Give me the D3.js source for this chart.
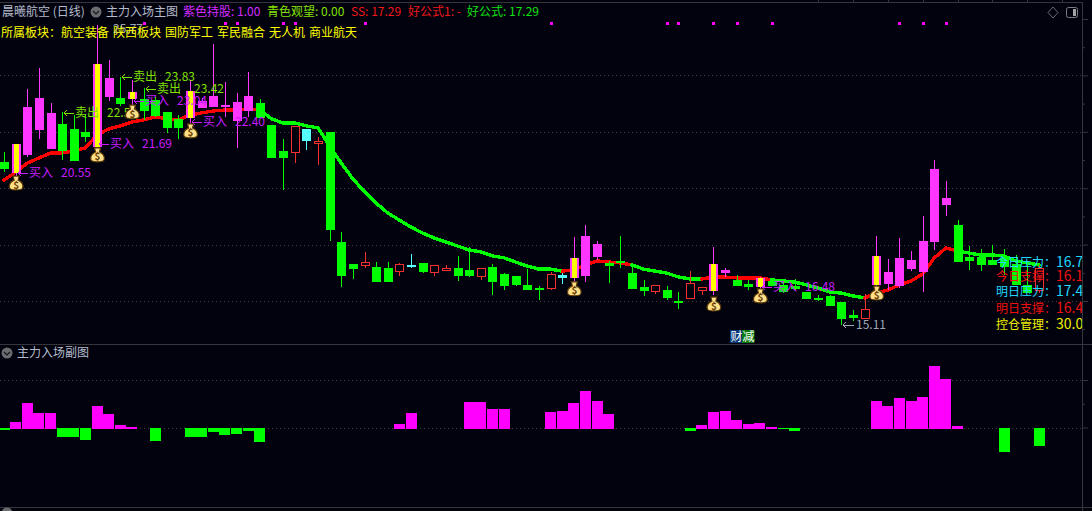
<!DOCTYPE html>
<html>
<head>
<meta charset="utf-8">
<title>晨曦航空 (日线)</title>
<script src="https://cdn.jsdelivr.net/npm/d3@7"></script>
<style>
  html, body { margin: 0; padding: 0; background: #02020e; overflow: hidden; }
  svg { display: block; }
  text { font-family: "Noto Sans CJK SC", "Noto Sans", sans-serif; font-size: 12px; }
</style>
</head>
<body>
<div id="chart"></div>
<script>
// daily candles
const high = [21.28,21.57,23.52,24.26,23.02,22.70,22.60,22.63,25.79,24.55,23.94,23.84,23.55,23.24,22.70,22.60,23.84,23.20,25.11,23.77,23.38,24.12,23.17,22.24,21.75,22.21,22.10,21.82,21.99,18.45,17.31,17.74,17.38,17.38,17.35,17.67,17.35,17.28,17.28,17.60,17.91,17.17,17.31,16.99,16.89,17.13,16.53,17.03,16.99,18.27,18.70,18.13,17.42,18.31,17.21,16.75,16.57,16.53,16.32,17.06,16.50,17.91,17.17,16.92,16.75,16.85,16.78,16.64,16.78,16.32,16.21,16.21,15.97,15.68,16.25,18.31,17.49,18.23,17.77,19.01,21.00,20.26,18.87,17.95,17.84,17.99,17.84,17.63,17.28,17.28];
const low = [20.57,20.40,21.11,21.75,21.39,21.00,20.97,21.64,21.35,23.09,22.91,22.77,22.42,22.53,21.96,21.75,22.31,22.84,22.88,22.53,21.43,22.53,22.49,21.07,19.94,20.89,21.35,20.82,18.13,16.50,16.78,17.17,16.67,16.67,16.89,17.17,16.99,16.89,17.06,16.71,16.85,16.75,16.21,16.39,16.53,16.39,16.04,16.39,16.60,16.57,16.67,17.46,16.64,17.17,16.43,16.18,16.25,16.04,15.72,16.11,16.21,16.21,16.85,16.53,16.39,16.39,16.53,16.28,16.39,16.07,16.00,15.82,15.15,15.29,15.40,16.39,16.39,16.46,17.06,16.32,17.81,19.01,17.38,17.10,17.06,17.28,16.92,16.57,16.28,16.28];
const bodyTop = [20.93,21.57,22.88,23.20,22.67,22.28,22.10,21.99,24.40,23.91,23.20,23.41,23.17,23.13,22.70,22.46,23.45,23.09,23.27,22.95,23.06,23.27,23.02,22.24,21.32,22.21,22.10,21.69,21.99,18.09,17.31,17.38,17.21,17.17,17.31,17.28,17.35,17.28,17.17,17.17,17.10,17.17,17.21,16.96,16.89,16.57,16.46,16.96,16.92,17.53,18.31,18.02,17.35,17.42,16.99,16.50,16.57,16.39,16.00,16.64,16.50,17.31,17.10,16.75,16.60,16.82,16.71,16.57,16.53,16.32,16.11,16.18,15.97,15.50,15.72,17.60,17.03,17.53,17.46,18.13,20.68,19.65,18.70,17.56,17.56,17.46,17.53,17.31,16.57,17.17];
const bodyBottom = [20.68,20.54,21.17,22.06,21.39,21.32,20.97,21.82,21.46,23.24,22.99,23.17,22.74,22.56,22.14,22.14,22.49,22.84,22.88,22.88,22.38,22.74,22.49,21.07,21.07,21.28,21.67,21.66,18.52,16.89,17.13,17.28,16.67,16.67,17.06,17.24,17.03,17.03,17.10,16.89,16.89,16.89,16.67,16.53,16.57,16.39,16.39,16.46,16.82,16.82,16.89,17.56,17.24,17.35,16.43,16.36,16.36,16.11,15.97,16.11,16.39,16.36,16.99,16.53,16.50,16.50,16.53,16.32,16.43,16.07,16.07,15.82,15.36,15.40,15.40,16.57,16.60,16.53,17.13,17.03,18.09,19.40,17.38,17.42,17.28,17.28,17.21,16.57,16.28,16.39];
// g green, m magenta, r red hollow, c cyan, y magenta with yellow core
const state = "gymmmgggymgyggggymmmmmgggrcrgggrggrcgrrggrgggggrcymmggggrggrrymggyggggggggrymmmmmmgggggggr".split("");

// thick trend line
const trend = [20.29,20.57,20.89,21.07,21.25,21.25,21.32,21.43,21.89,22.10,22.21,22.35,22.42,22.53,22.46,22.42,22.60,22.67,22.74,22.77,22.77,22.81,22.77,22.46,22.31,22.31,22.21,22.14,21.50,20.89,20.33,19.87,19.47,19.12,18.87,18.62,18.41,18.23,18.09,17.95,17.81,17.74,17.60,17.53,17.38,17.24,17.13,17.13,17.06,17.10,17.28,17.42,17.38,17.35,17.28,17.13,17.06,16.99,16.85,16.78,16.78,16.85,16.85,16.82,16.82,16.82,16.75,16.71,16.67,16.57,16.46,16.32,16.28,16.18,16.11,16.28,16.39,16.57,16.71,16.96,17.53,17.88,17.77,17.70,17.63,17.63,17.60,17.42,17.35,17.28];
const trendRedRuns = [[0, 22], [48, 54], [60, 66], [74, 82]];

// lower panel, one bar per candle, 100 = the dotted grid line
const flow = [-5.6,11.3,51.4,30.3,30.3,-20.4,-20.4,-26.8,45.1,28.2,4.9,0.7,0,-28.9,0,0,-20.4,-20.4,-9.9,-16.2,-14.1,-7.7,-31,0,0,0,0,0,0,0,0,0,0,0,7,30.3,0,0,0,0,53.5,53.5,38.7,38.7,0,0,0,32.4,34.5,51.4,76.8,55.6,28.2,0,0,0,0,0,0,-7.7,4.9,32.4,34.5,15.5,7,9.2,0.7,-3.5,-7.7,0,0,0,0,0,0,55.6,45.1,62,55.6,64.1,129.6,102.1,2.8,0,0,0,-52.1,0,0,-39.4];

const priceGrid = [16, 18, 20, 22, 24];
const priceTicks = [15, 16, 17, 18, 19, 20, 21, 22, 23, 24, 25, 26];
const flowTicks = [0, 50, 100];

const bagDays = [1, 8, 11, 16, 49, 61, 65, 75];
const bagPrices = [20.18, 21.18, 22.70, 22.03, 16.43, 15.89, 16.18, 16.28];

const buyDays = [1, 8, 11, 16, 65];
const buyAt = [20.54, 21.57, 23.09, 22.35, 16.50];
const buyLabels = ["20.55", "21.69", "23.04", "22.40", "16.48"];
const sellDays = [5, 10, 12];
const sellAt = [22.66, 23.94, 23.52];
const sellLabels = ["22.53", "23.83", "23.42"];

const signalDays = [12, 19, 20, 24, 25, 31, 47, 57, 58, 61, 63, 66, 77, 79, 81];
const topTickDays = [70, 73, 76, 79, 82, 85, 88, 91];

const headerItems = [
  ["晨曦航空 (日线)", 2, "#b4bccc"], ["主力入场主图", 106, "#b4bccc"],
  ["紫色持股: 1.00", 183, "#d42cff"], ["青色观望: 0.00", 267, "#84e000"],
  ["SS: 17.29", 351, "#f01818"], ["好公式1: -", 408, "#f01818"], ["好公式: 17.29", 467, "#10e010"]
];
const sectorItems = [
  ["所属板块：", 1], ["航空装备", 61], ["陕西板块", 113], ["国防军工", 165],
  ["军民融合", 217], ["无人机", 269], ["商业航天", 309]
];
const sidePanel = [
  ["今日压力：", "16.74", "#20d8ff"], ["今日支撑：", "16.17", "#f01010"], ["明日压力：", "17.44", "#20d8ff"],
  ["明日支撑：", "16.43", "#f01010"], ["控仓管理：", "30.00", "#f0f000"]
];
const sidePanelRows = [263, 277, 292, 309, 325];

const width = 1092, height = 511;
const axisX = 1082;
const green = "#00ff00", magenta = "#ff36ff", red = "#f23030", cyan = "#55ffff", yellow = "#ffff00";
const buyColor = "#c81cff", sellColor = "#80e000", frame = "#34363c";

const x = d3.scaleLinear().domain([0, 89]).range([4, 1039]);
const y = d3.scaleLinear().domain([16, 24]).range([301, 75.4]);
const flowY = d3.scaleLinear().domain([0, 100]).range([427.5, 380]);

const svg = d3.select("#chart").append("svg").attr("width", width).attr("height", height);

// frame
[[0, axisX, 2, 2], [0, width, 344, 344], [0, width, 507, 507], [axisX, axisX, 2, 511]].forEach(d => {
  svg.append("line").attr("x1", d[0]).attr("x2", d[1]).attr("y1", d[2]).attr("y2", d[3])
    .attr("stroke", frame).attr("shape-rendering", "crispEdges");
});

// dotted grid
function dottedRow(yPos) {
  svg.append("line").attr("x1", 0).attr("x2", axisX).attr("y1", yPos).attr("y2", yPos)
    .attr("stroke", "#3c3e42").attr("stroke-dasharray", "1 3").attr("shape-rendering", "crispEdges");
}
priceGrid.forEach(p => dottedRow(Math.round(y(p))));
[0, 100].forEach(v => dottedRow(Math.round(flowY(v))));

// right axes, ticks only
function rightAxis(scale, values, longTest) {
  const g = svg.append("g").attr("transform", `translate(${axisX},0)`)
    .call(d3.axisRight(scale).tickValues(values).tickFormat("").tickSize(5));
  g.select(".domain").remove();
  g.selectAll(".tick line").attr("stroke", frame).attr("x2", d => longTest(d) ? 6 : 3);
}
rightAxis(y, priceTicks, d => d % 2 === 0);
rightAxis(flowY, flowTicks, d => d % 100 === 0);

// date ticks above the top rule
topTickDays.forEach(d => {
  svg.append("line").attr("x1", Math.round(x(d))).attr("x2", Math.round(x(d))).attr("y1", 0).attr("y2", 2)
    .attr("stroke", frame).attr("shape-rendering", "crispEdges");
});

// trend line goes under the candles
const trendLine = d3.line().x(d => x(d)).y(d => y(trend[d]));
const isRed = i => trendRedRuns.some(r => i >= r[0] && i < r[1]);
d3.range(trend.length - 1).forEach(i => {
  svg.append("path").attr("d", trendLine([i, i + 1])).attr("fill", "none")
    .attr("stroke", isRed(i) ? "#ff0000" : "#00ff00").attr("stroke-width", 3.4)
    .attr("stroke-linecap", "round").attr("shape-rendering", "crispEdges");
});

// candles
const candleColor = { g: green, m: magenta, y: magenta, r: red, c: cyan };
const candles = svg.append("g").selectAll("g").data(d3.range(high.length)).join("g")
  .attr("shape-rendering", "crispEdges");
candles.append("line")
  .attr("x1", i => Math.round(x(i)) + 0.5).attr("x2", i => Math.round(x(i)) + 0.5)
  .attr("y1", i => y(high[i])).attr("y2", i => y(low[i]))
  .attr("stroke", i => candleColor[state[i]]);
candles.append("rect")
  .attr("x", i => Math.round(x(i)) - 4 + (state[i] === "r" ? 0.5 : 0))
  .attr("width", i => state[i] === "r" ? 8 : 9)
  .attr("y", i => Math.round(y(bodyTop[i])) + (state[i] === "r" ? 0.5 : 0))
  .attr("height", i => Math.max(2, Math.round(y(bodyBottom[i]) - y(bodyTop[i]))))
  .attr("fill", i => state[i] === "r" ? "#02020e" : candleColor[state[i]])
  .attr("stroke", i => state[i] === "r" ? red : "none");
candles.filter(i => state[i] === "y").append("rect")
  .attr("x", i => Math.round(x(i)) - 2).attr("width", 5)
  .attr("y", i => Math.round(y(bodyTop[i])))
  .attr("height", i => Math.round(y(bodyBottom[i]) - y(bodyTop[i])))
  .attr("fill", yellow);

// flow bars
svg.append("g").selectAll("rect").data(flow.map((v, i) => ({ v, i })).filter(d => d.v !== 0)).join("rect")
  .attr("x", d => Math.round(x(d.i) - 5.5)).attr("width", 11)
  .attr("y", d => d.v > 0 ? flowY(d.v) : flowY(0))
  .attr("height", d => Math.abs(flowY(d.v) - flowY(0)) + (d.v > 0 ? 1 : 0))
  .attr("fill", d => d.v > 0 ? "#ff00ff" : "#00ff00")
  .attr("shape-rendering", "crispEdges");

// signal dots along the top
svg.append("g").selectAll("rect").data(signalDays).join("rect")
  .attr("x", d => Math.round(x(d)) - 1).attr("y", 22).attr("width", 3).attr("height", 3)
  .attr("fill", "#ff00ff");

// arrows and labels
function arrowLabel(x0, x1, yPos, color) {
  svg.append("path")
    .attr("d", `M${x1},${yPos}H${x0 + 1}M${x0 + 4},${yPos - 3}L${x0 + 1},${yPos}L${x0 + 4},${yPos + 3}`)
    .attr("fill", "none").attr("stroke", color).attr("shape-rendering", "crispEdges");
}
function signalLabel(day, price, word, number, color, numberGap) {
  const px = Math.round(x(day)) + 1, py = Math.round(y(price));
  arrowLabel(px, px + 11, py, color);
  svg.append("text").attr("x", px + 12).attr("y", py + 4).attr("fill", color).text(word);
  svg.append("text").attr("x", px + 12 + numberGap).attr("y", py + 4).attr("fill", color).text(number);
}
buyDays.forEach((d, i) => signalLabel(d, buyAt[i], "买入", buyLabels[i], buyColor, 32));
sellDays.forEach((d, i) => signalLabel(d, sellAt[i], "卖出", sellLabels[i], sellColor, i === 2 ? 37 : 32));

// high and low callouts
arrowLabel(842, 854, 325, "#a0a8b8");
svg.append("text").attr("x", 856).attr("y", 329).attr("fill", "#a0a8b8").text("15.11");
svg.append("text").attr("x", 113).attr("y", 33).attr("fill", "#9aa2b0").text("25.77");

// money bags
const bags = svg.append("g").selectAll("g").data(bagDays).join("g")
  .attr("transform", (d, i) => `translate(${x(d) + 0.5},${y(bagPrices[i])})`);
bags.append("path")
  .attr("d", "M-3,-7L3,-7L2,-3C6,-1 7.5,2 6.5,5C5.5,7.5 -5.5,7.5 -6.5,5C-7.5,2 -6,-1 -2,-3Z")
  .attr("fill", "#ffe089").attr("stroke", "#5a3a08").attr("stroke-width", 1.2);
bags.append("text").attr("text-anchor", "middle").attr("y", 5.5)
  .style("font-size", "10px").style("font-weight", "bold").attr("fill", "#6a4008").text("$");

// header rows
svg.append("g").selectAll("text").data(headerItems).join("text")
  .attr("x", d => d[1]).attr("y", 16).attr("fill", d => d[2]).text(d => d[0]);
svg.append("g").selectAll("text").data(sectorItems).join("text")
  .attr("x", d => d[1]).attr("y", 37).attr("fill", "#ffff00").text(d => d[0]);

function chevron(cx, cy) {
  svg.append("circle").attr("cx", cx).attr("cy", cy).attr("r", 5.5).attr("fill", "#6a6c70");
  svg.append("path").attr("d", `M${cx - 3},${cy - 1}L${cx},${cy + 2}L${cx + 3},${cy - 1}`)
    .attr("fill", "none").attr("stroke", "#16161c").attr("stroke-width", 1.2);
}
chevron(96, 12);
chevron(7, 353);
svg.append("text").attr("x", 17).attr("y", 357).attr("fill", "#b4bccc").text("主力入场副图");
svg.append("circle").attr("cx", 7).attr("cy", 513).attr("r", 5.5).attr("fill", "#6a6c70");

// window buttons
svg.append("path").attr("d", "M1053,7L1058,12.5L1053,18L1048,12.5Z").attr("fill", "none").attr("stroke", "#6a6c70");
svg.append("rect").attr("x", 1066.5).attr("y", 7.5).attr("width", 11).attr("height", 10).attr("rx", 2)
  .attr("fill", "#02020e").attr("stroke", "#7a7c80");
svg.append("rect").attr("x", 1073).attr("y", 9).attr("width", 3).attr("height", 7).attr("fill", "#a0a2a6");

// side panel text, cut off by the axis
svg.append("clipPath").attr("id", "side").append("rect")
  .attr("x", 990).attr("y", 240).attr("width", axisX - 990).attr("height", 100);
const sideText = svg.append("g").attr("clip-path", "url(#side)").selectAll("text").data(sidePanel).join("text")
  .attr("x", 996).attr("y", (d, i) => sidePanelRows[i] + 4).attr("fill", d => d[2]);
sideText.append("tspan").text(d => d[0]);
sideText.append("tspan").style("font-size", "14px").text(d => d[1]);

// 财减 badge
[["财", 730, "#0a3a78"], ["减", 742, "#0a7a10"]].forEach(d => {
  svg.append("rect").attr("x", d[1]).attr("y", 330).attr("width", 12.5).attr("height", 13).attr("fill", d[2]);
  svg.append("text").attr("x", d[1] + 0.5).attr("y", 341).attr("fill", "#fff").text(d[0]);
});
</script>
</body>
</html>
